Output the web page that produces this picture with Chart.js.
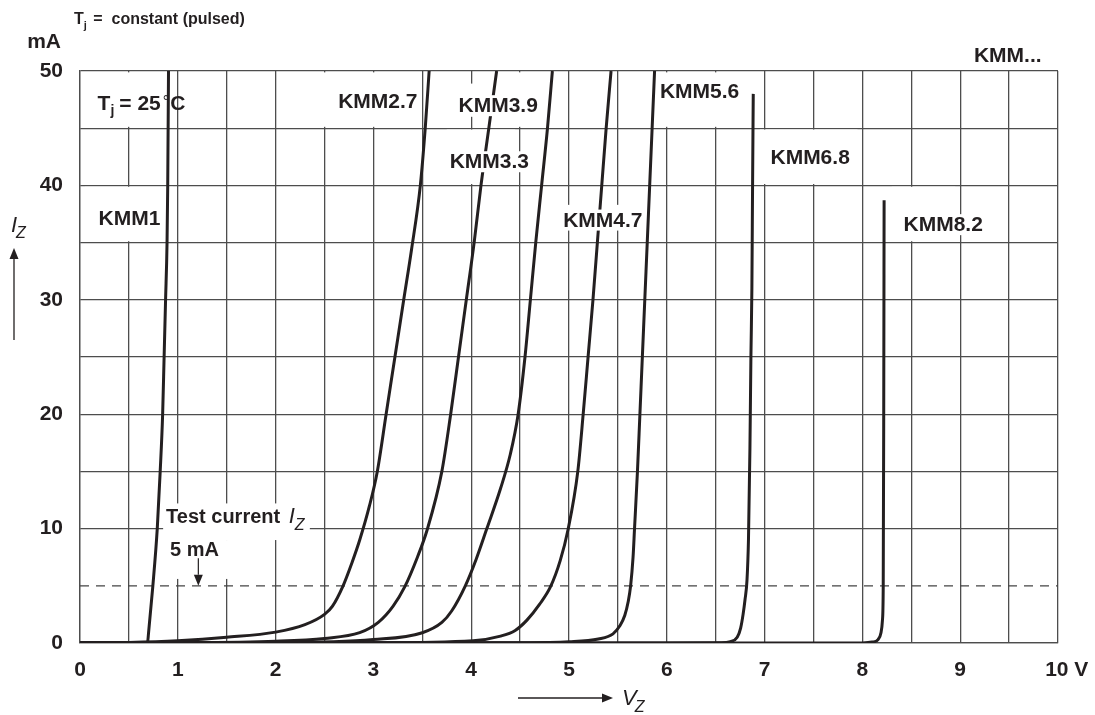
<!DOCTYPE html>
<html>
<head>
<meta charset="utf-8">
<script src="https://cdn.jsdelivr.net/npm/chart.js@4.4.1/dist/chart.umd.min.js"></script>
<style>
  html, body { margin: 0; padding: 0; background: #fff; }
</style>
</head>
<body>
<canvas id="zenerChart" width="1095" height="715"></canvas>
<script>
// Zener characteristics Iz (mA) over Vz (V)
var seriesNames = ['KMM1', 'KMM2.7', 'KMM3.3', 'KMM3.9', 'KMM4.7', 'KMM5.6', 'KMM6.8', 'KMM8.2'];

var kmm1V  = [0, 0.69, 0.70, 0.745, 0.79, 0.82, 0.845, 0.86, 0.875, 0.89, 0.897, 0.905];
var kmm1I  = [0, 0, 0.8, 5, 10, 15, 20, 25, 30, 35, 40, 50];

var kmm27V = [0, 0.5, 1.0, 1.5, 2.0, 2.3, 2.5, 2.58, 2.69, 2.78, 2.86, 2.96, 3.04, 3.13, 3.22, 3.31, 3.39, 3.48, 3.53, 3.57];
var kmm27I = [0, 0.05, 0.2, 0.5, 0.95, 1.6, 2.5, 3.2, 5, 7, 9, 12, 15, 20, 25, 30, 34.4, 40, 45, 50];

var kmm33V = [0, 1.0, 2.0, 2.5, 2.86, 3.05, 3.2, 3.32, 3.45, 3.55, 3.70, 3.79, 3.87, 3.95, 4.03, 4.10, 4.18, 4.26];
var kmm33I = [0, 0.02, 0.15, 0.4, 0.9, 1.8, 3.2, 4.9, 7.5, 9.9, 15, 20, 25, 30, 35, 40, 45, 50];

var kmm39V = [0, 2.0, 3.0, 3.5, 3.7, 3.8, 3.94, 4.05, 4.16, 4.30, 4.40, 4.48, 4.55, 4.605, 4.66, 4.72, 4.78, 4.83];
var kmm39I = [0, 0.03, 0.3, 0.9, 1.8, 2.8, 5, 7.3, 10, 13.5, 16.5, 20, 25, 30, 35, 40, 45, 50];

var kmm47V = [0, 3.0, 4.02, 4.3, 4.45, 4.57, 4.7, 4.81, 4.91, 4.99, 5.09, 5.145, 5.195, 5.245, 5.29, 5.335, 5.38, 5.43];
var kmm47I = [0, 0.02, 0.2, 0.6, 1.1, 2.0, 3.4, 4.9, 7.2, 9.9, 15, 20, 25, 30, 35, 40, 45, 50];

var kmm56V = [0, 4.5, 5.0, 5.3, 5.45, 5.52, 5.57, 5.605, 5.63, 5.655, 5.67, 5.70, 5.725, 5.75, 5.775, 5.80, 5.825, 5.85, 5.875];
var kmm56I = [0, 0.02, 0.1, 0.35, 0.8, 1.5, 2.4, 3.6, 5, 7.5, 10, 15, 20, 25, 30, 35, 40, 45, 50];

var kmm68V = [0, 6.0, 6.55, 6.65, 6.72, 6.755, 6.78, 6.80, 6.82, 6.835, 6.85, 6.86, 6.87, 6.877, 6.884];
var kmm68I = [0, 0, 0.02, 0.12, 0.5, 1.3, 2.5, 3.8, 5.5, 9, 17, 25, 31, 40, 48];

var kmm82V = [0, 7.5, 8.0, 8.1, 8.16, 8.19, 8.205, 8.213, 8.218, 8.222];
var kmm82I = [0, 0, 0.01, 0.08, 0.3, 0.9, 2, 5, 20, 38.7];

var testCurrentV = [0, 10];
var testCurrentI = [5, 5];

var curveV = [kmm1V, kmm27V, kmm33V, kmm39V, kmm47V, kmm56V, kmm68V, kmm82V];
var curveI = [kmm1I, kmm27I, kmm33I, kmm39I, kmm47I, kmm56I, kmm68I, kmm82I];

function toPoints(xs, ys) {
  return xs.map(function(x, k) { return { x: x, y: ys[k] }; });
}

var ink = '#231f20';
var gridInk = '#4d4d4d';
var FONT = '"Liberation Sans", Arial, sans-serif';

var datasets = seriesNames.map(function(name, k) {
  return {
    label: name,
    data: toPoints(curveV[k], curveI[k]),
    showLine: true,
    borderColor: ink,
    borderWidth: 3,
    pointRadius: 0,
    cubicInterpolationMode: 'monotone'
  };
});
datasets.push({
  label: 'Test current',
  data: toPoints(testCurrentV, testCurrentI),
  showLine: true,
  borderColor: '#444',
  borderWidth: 1.3,
  borderDash: [9, 7],
  pointRadius: 0
});

// white patches where the original sheet breaks the grid for its labels: [v1, v2, i1, i2]
var gridGaps = [
  [0.05, 0.95, 45.12, 49.88],
  [0.05, 0.95, 35.12, 39.88],
  [2.1, 3.4, 45.12, 49.88],
  [3.85, 4.45, 46.0, 48.9],
  [4.45, 4.62, 45.12, 49.88],
  [3.75, 4.45, 40.12, 44.88],
  [4.9, 5.7, 36.1, 38.3],
  [5.6, 6.9, 45.12, 49.88],
  [6.95, 7.95, 40.12, 44.88],
  [8.3, 8.95, 35.12, 39.88],
  [0.85, 2.35, 9.0, 12.2],
  [0.85, 1.55, 5.6, 9.0]
];

// curve labels, left edge / baseline in axis units
var curveNotes = [
  { t: 'KMM1',   v: 0.19, i: 36.5 },
  { t: 'KMM2.7', v: 2.64, i: 46.8 },
  { t: 'KMM3.9', v: 3.87, i: 46.4 },
  { t: 'KMM3.3', v: 3.78, i: 41.5 },
  { t: 'KMM4.7', v: 4.94, i: 36.4 },
  { t: 'KMM5.6', v: 5.93, i: 47.6 },
  { t: 'KMM6.8', v: 7.06, i: 41.9 },
  { t: 'KMM8.2', v: 8.42, i: 36.0 },
  { t: 'KMM...', v: 9.14, i: 50.8 }
];

function drawParts(ctx, x, y, parts) {
  parts.forEach(function(p) {
    ctx.font = p.f;
    ctx.fillText(p.t, x, y + (p.dy || 0));
    x += ctx.measureText(p.t).width + (p.gap || 0);
  });
  return x;
}

function arrow(ctx, x1, y1, x2, y2) {
  var a = Math.atan2(y2 - y1, x2 - x1), hl = 11, hw = 4.5;
  ctx.beginPath();
  ctx.moveTo(x1, y1);
  ctx.lineTo(x2 - hl * Math.cos(a), y2 - hl * Math.sin(a));
  ctx.stroke();
  ctx.beginPath();
  ctx.moveTo(x2, y2);
  ctx.lineTo(x2 - hl * Math.cos(a) - hw * Math.sin(a), y2 - hl * Math.sin(a) + hw * Math.cos(a));
  ctx.lineTo(x2 - hl * Math.cos(a) + hw * Math.sin(a), y2 - hl * Math.sin(a) - hw * Math.cos(a));
  ctx.closePath();
  ctx.fill();
}

var notesPlugin = {
  id: 'notes',
  beforeDatasetsDraw: function(chart) {
    var ctx = chart.ctx, xs = chart.scales.x, ys = chart.scales.y;
    ctx.save();
    ctx.fillStyle = '#fff';
    gridGaps.forEach(function(g) {
      var x1 = xs.getPixelForValue(g[0]), x2 = xs.getPixelForValue(g[1]);
      var y1 = ys.getPixelForValue(g[3]), y2 = ys.getPixelForValue(g[2]);
      ctx.fillRect(x1, y1, x2 - x1, y2 - y1);
    });
    ctx.restore();
  },
  afterDatasetsDraw: function(chart) {
    var ctx = chart.ctx, xs = chart.scales.x, ys = chart.scales.y;
    var area = chart.chartArea;
    var bold = 'bold 21px ' + FONT;
    ctx.save();
    ctx.textBaseline = 'alphabetic';
    ctx.textAlign = 'left';

    curveNotes.forEach(function(n) {
      var x = xs.getPixelForValue(n.v), y = ys.getPixelForValue(n.i);
      ctx.font = bold;
      var w = ctx.measureText(n.t).width;
      ctx.fillStyle = '#fff';
      ctx.fillRect(x - 2, y - 17, w + 4, 21);
      ctx.fillStyle = ink;
      ctx.fillText(n.t, x, y);
    });

    ctx.fillStyle = ink;
    // Tj = 25 °C
    var tx = xs.getPixelForValue(0.18), ty = ys.getPixelForValue(46.6);
    drawParts(ctx, tx, ty, [
      { t: 'T', f: bold },
      { t: 'j', f: 'bold 14px ' + FONT, dy: 5, gap: 5 },
      { t: '= 25', f: bold, gap: 2 },
      { t: '\u00b0', f: '16px ' + FONT, dy: -3, gap: 1 },
      { t: 'C', f: bold }
    ]);

    // test current note with arrow
    var cx = xs.getPixelForValue(0.88), cy = ys.getPixelForValue(10.5);
    drawParts(ctx, cx, cy, [
      { t: 'Test current ', f: 'bold 20px ' + FONT, gap: 3 },
      { t: 'I', f: 'italic 22px ' + FONT, gap: 0 },
      { t: 'Z', f: 'italic 16px ' + FONT, dy: 7 }
    ]);
    ctx.font = 'bold 20px ' + FONT;
    ctx.fillText('5 mA', xs.getPixelForValue(0.92), ys.getPixelForValue(7.6));
    ctx.strokeStyle = ink;
    ctx.lineWidth = 1.2;
    var ax = xs.getPixelForValue(1.21);
    arrow(ctx, ax, ys.getPixelForValue(7.4), ax, ys.getPixelForValue(5.0));

    // header and unit
    drawParts(ctx, 74, 24, [
      { t: 'T', f: 'bold 16px ' + FONT },
      { t: 'j', f: 'bold 11px ' + FONT, dy: 5, gap: 2 },
      { t: ' =  constant (pulsed)', f: 'bold 16px ' + FONT }
    ]);
    ctx.font = bold;
    ctx.textAlign = 'right';
    ctx.fillText('mA', area.left - 19, 48);
    ctx.textAlign = 'left';

    // axis titles with arrows
    drawParts(ctx, 11, 232, [
      { t: 'I', f: 'italic 22px ' + FONT, gap: -1 },
      { t: 'Z', f: 'italic 16px ' + FONT, dy: 6 }
    ]);
    ctx.lineWidth = 1.3;
    arrow(ctx, 14, 340, 14, 248);
    arrow(ctx, 518, 698, 613, 698);
    drawParts(ctx, 622, 705, [
      { t: 'V', f: 'italic 22px ' + FONT, gap: -2 },
      { t: 'Z', f: 'italic 16px ' + FONT, dy: 7 }
    ]);
    ctx.restore();
  }
};

var ctx = document.getElementById('zenerChart').getContext('2d');
var zenerChart = new Chart(ctx, {
  type: 'scatter',
  data: { datasets: datasets },
  options: {
    responsive: false,
    animation: false,
    events: [],
    layout: { padding: { top: 71, right: 37, left: 0, bottom: 0 } },
    plugins: { legend: { display: false }, tooltip: { enabled: false } },
    scales: {
      x: {
        type: 'linear',
        min: 0,
        max: 10,
        afterFit: function(scale) {
          scale.height = 72;
          scale.paddingLeft = 0;
          scale.paddingRight = 0;
        },
        grid: { color: gridInk, lineWidth: 1.3, drawTicks: false },
        border: { color: gridInk, width: 1.3 },
        ticks: {
          stepSize: 0.5,
          autoSkip: false,
          maxRotation: 0,
          padding: 15,
          color: ink,
          font: { family: FONT, size: 21, weight: 'bold' },
          callback: function(value) {
            if (Math.abs(value - Math.round(value)) > 1e-6) return '';
            return value === 10 ? '   10 V' : String(value);
          }
        }
      },
      y: {
        type: 'linear',
        min: 0,
        max: 50,
        afterFit: function(scale) { scale.width = 80; },
        grid: {
          lineWidth: 1.3,
          drawTicks: false,
          color: function(c) { return c.tick && c.tick.value === 5 ? 'rgba(0,0,0,0)' : gridInk; }
        },
        border: { color: gridInk, width: 1.3 },
        ticks: {
          stepSize: 5,
          autoSkip: false,
          padding: 17,
          color: ink,
          font: { family: FONT, size: 21, weight: 'bold' },
          callback: function(value) { return value % 10 === 0 ? String(value) : ''; }
        }
      }
    }
  },
  plugins: [notesPlugin]
});
</script>
</body>
</html>
